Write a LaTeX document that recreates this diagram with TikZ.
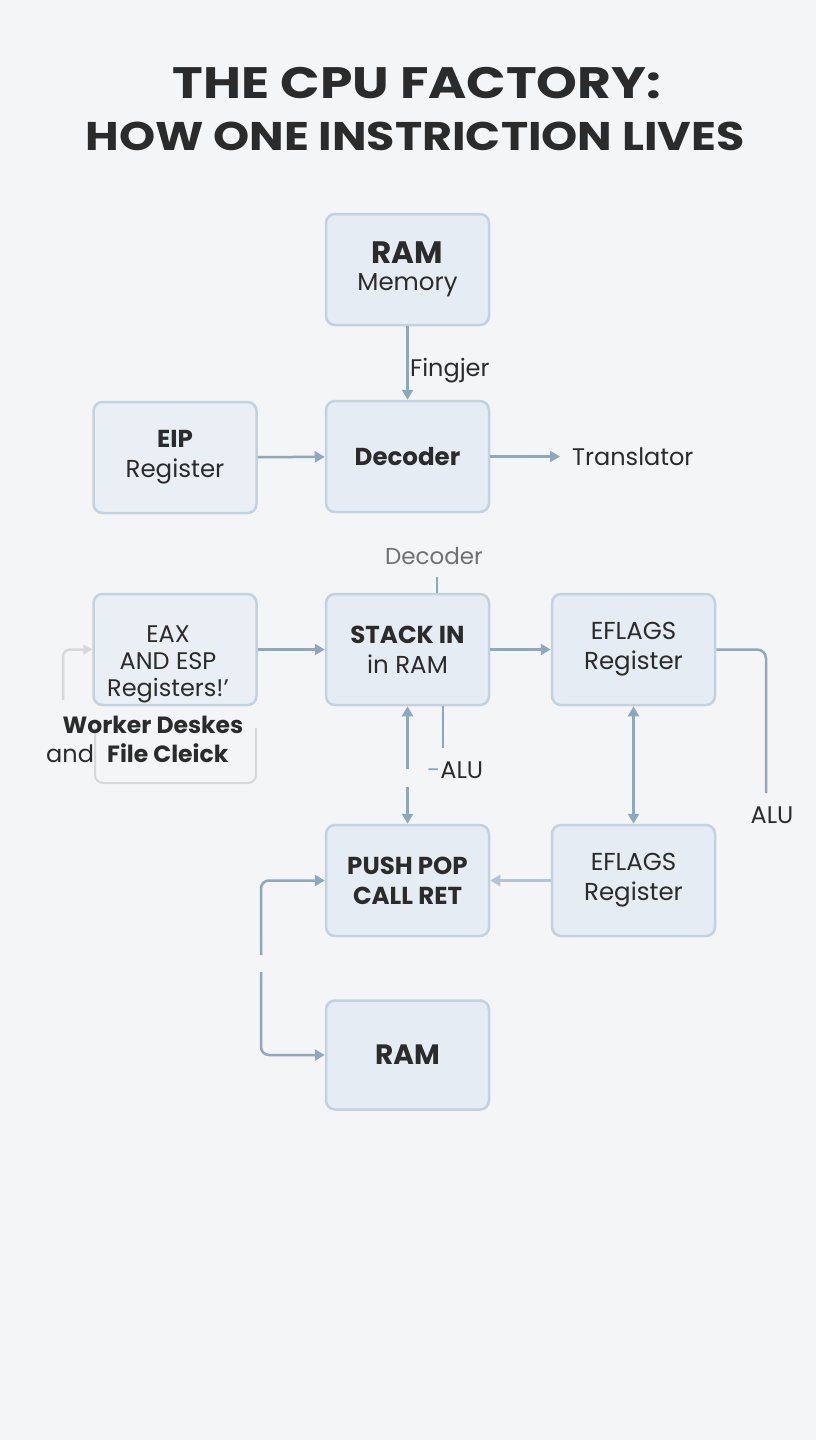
\documentclass[tikz,border=0pt]{standalone}
\usepackage{graphicx}
\usepackage{fontspec}
\setmainfont{Poppins}
\usetikzlibrary{arrows.meta}
\definecolor{bg}{HTML}{F4F5F6}
\definecolor{boxfill}{HTML}{E5ECF3}
\definecolor{boxfilltwo}{HTML}{E9EFF5}
\definecolor{boxline}{HTML}{C3D2E1}
\definecolor{arrowc}{HTML}{8EA8C0}
\definecolor{arrowlight}{HTML}{B3C4D4}
\definecolor{ink}{HTML}{2B2B2B}
\definecolor{graytxt}{HTML}{707070}
\definecolor{ghost}{HTML}{D6D8DB}
\begin{document}
\begin{tikzpicture}[x=1pt,y=1pt,
  box/.style={draw=boxline, fill=boxfill, line width=2.5pt, rounded corners=9pt,
    minimum width=163pt, minimum height=111pt, align=center, text=ink,
    font=\fontsize{24.5}{30}\selectfont, inner sep=0pt},
  conn/.style={draw=arrowc, line width=2.5pt, -{Triangle[width=11pt,length=10pt]}},
  plainline/.style={draw=arrowc, line width=2.5pt},
  gconn/.style={draw=ghost, line width=2.5pt, -{Triangle[width=10pt,length=9pt]}},
  gline/.style={draw=ghost, line width=2pt},
  lbl/.style={text=ink, font=\fontsize{24}{28}\selectfont, inner sep=0pt},
  title/.style={text=ink, inner sep=0pt}]
\fill[bg] (0,0) rectangle (816,-1440);
\useasboundingbox (0,0) rectangle (816,-1440);

% title
\node[title, anchor=base] (t1) at (417,-98) {\scalebox{1.18}[1]{\fontsize{44}{44}\selectfont\bfseries THE CPU FACTORY:}};
\node[title, anchor=base] (t2) at (415,-150) {\scalebox{1.15}[1]{\fontsize{40}{40}\selectfont\bfseries HOW ONE INSTRICTION LIVES}};

% boxes
\node[box] (ram) at (407.5,-269.5) {{\fontsize{31}{32}\selectfont\bfseries RAM}\\[-3pt]Memory};
\node[box] (dec) at (407.5,-456.5) {\bfseries Decoder};
\node[box, fill=boxfilltwo] (eip) at (175,-457.5) {{\bfseries EIP}\\Register};
\node[box, fill=boxfilltwo] (eax) at (175,-649.5) {};
\node[box] (stack) at (407.5,-649.5) {\bfseries STACK IN\\in RAM};
\node[box] (efa) at (633.5,-649.5) {EFLAGS\\Register};
\node[box] (push) at (407.5,-880.5) {\bfseries PUSH POP\\\bfseries CALL RET};
\node[box] (efb) at (633.5,-880.5) {EFLAGS\\Register};
\node[box, minimum height=109pt] (ramb) at (407.5,-1055) {\fontsize{28}{30}\selectfont\bfseries RAM};

% EAX text and ghost parts
\node[lbl, align=center, font=\fontsize{24}{27}\selectfont] (eaxt) at (168,-664) {EAX\\AND ESP\\Registers!’};
\draw[gline, rounded corners=8pt] (95,-728) -- (95,-783) -- (256,-783) -- (256,-728);
\coordinate (ga) at (63,-700);
\draw[gconn, rounded corners=7pt] (ga) |- (eax.west);
\node[lbl, anchor=base, font=\fontsize{23.5}{26}\selectfont\bfseries] (wd) at (153,-733) {Worker Deskes};
\node[lbl, anchor=base west] (andl) at (46,-762) {and};
\node[lbl, anchor=base west, font=\fontsize{23.5}{26}\selectfont\bfseries] (fc) at (107,-762) {File Cleick};

% connectors
\draw[conn] (ram) -- (dec);
\node[lbl, anchor=base west] (fing) at (410,-376) {Fingjer};
\draw[conn] (eip) -- (dec);
\coordinate (trc) at (560,-456.5);
\draw[conn] (dec) -- (trc);
\node[lbl, anchor=base west] (trl) at (572,-465) {Translator};

\node[lbl, anchor=base, text=graytxt, font=\fontsize{23}{26}\selectfont] (declbl) at (434,-564) {Decoder};
\coordinate (dl) at (437,-577);
\draw[plainline] (dl) -- (dl |- stack.north);

\draw[conn] (eax) -- (stack);
\draw[conn] (stack) -- (efa);

\coordinate (alue) at (766,-793);
\draw[plainline, rounded corners=9pt] (efa.east) -| (alue);
\node[lbl, anchor=base] (alur) at (772,-823) {ALU};

\coordinate (ga1) at (407.5,-769);
\coordinate (ga2) at (407.5,-787);
\draw[conn] (ga1) -- (stack.south);
\draw[conn] (ga2) -- (push.north);
\coordinate (sa) at (443,-748);
\draw[plainline] (sa |- stack.south) -- (sa);
\node[lbl, anchor=base west] (alum) at (427,-778) {{\color{arrowc}-}ALU};

\draw[draw=arrowc, line width=2.5pt, {Triangle[width=11pt,length=10pt]}-{Triangle[width=11pt,length=10pt]}] (efa) -- (efb);
\draw[conn, draw=arrowlight] (efb) -- (push);

\coordinate (l1) at (261,-955);
\draw[conn, rounded corners=8pt] (l1) |- (push.west);
\coordinate (l2) at (261,-972);
\draw[conn, rounded corners=8pt] (l2) |- (ramb.west);
\end{tikzpicture}
\end{document}
